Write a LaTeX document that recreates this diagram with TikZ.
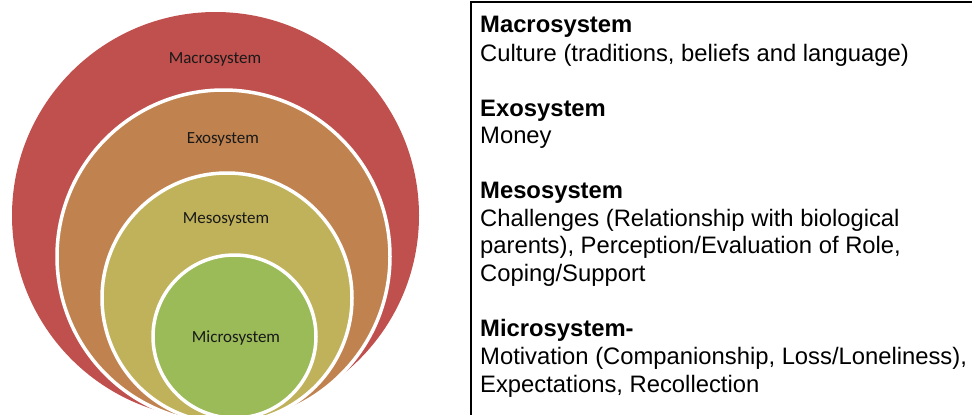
\documentclass[tikz,border=0pt]{standalone}
\usepackage{fontspec}
\setmainfont{Liberation Sans}
\newfontfamily\ringfont{Carlito}
\usetikzlibrary{positioning}

\definecolor{macrored}{HTML}{C0504D}
\definecolor{exobrown}{HTML}{C0834F}
\definecolor{mesoolive}{HTML}{C0B25A}
\definecolor{microgreen}{HTML}{9BBB59}

\tikzset{
  ring/.style={circle, draw=white, line width=3.5pt, inner sep=0pt},
  ringlabel/.style={font=\ringfont\fontsize{17}{20}\selectfont, text=black!90, inner sep=0pt},
  desc/.style={anchor=north west, align=left, inner sep=0pt,
    font=\fontsize{23.8}{27.7}\selectfont},
}

\begin{document}
\begin{tikzpicture}[x=1pt, y=-1pt]
    \useasboundingbox (0,0) rectangle (972,415);
    \clip (0,0) rectangle (972,415);

    % nested system circles, outermost first
    \node[ring, draw=none, fill=macrored, minimum size=407pt] (macro) at (215.5,215.5) {};
    \node[ring, fill=exobrown, minimum size=333pt] (exo) at (223.5,256.5) {};
    \node[ring, fill=mesoolive, minimum size=250pt] (meso) at (227,298) {};
    \node[ring, fill=microgreen, minimum size=163pt] (micro) at (234.5,336.5) {};

    \node[ringlabel] (macrolabel) at (215,59) {Macrosystem};
    \node[ringlabel] (exolabel) at (223,139) {Exosystem};
    \node[ringlabel] (mesolabel) at (226,219) {Mesosystem};
    \node[ringlabel] (microlabel) at (236,338) {Microsystem};

    % legend frame, open at the right and bottom
    \draw[line width=1.6pt] (471,415) |- (972,2);

    \node[desc] (macrodesc) at (480,12.9)
      {\strut\textbf{Macrosystem}\\[1.5pt] Culture (traditions, beliefs and language)};
    \node[desc] (exodesc) at (480,96.6)
      {\strut\textbf{Exosystem}\\ Money};
    \node[desc] (mesodesc) at (480,178.9)
      {\strut\textbf{Mesosystem}\\ Challenges (Relationship with biological\\
       parents), Perception/Evaluation of Role,\\ Coping/Support};
    \node[desc] (microdesc) at (480,317.3)
      {\strut\textbf{Microsystem-}\\ Motivation (Companionship, Loss/Loneliness),\\
       Expectations, Recollection};
\end{tikzpicture}
\end{document}
